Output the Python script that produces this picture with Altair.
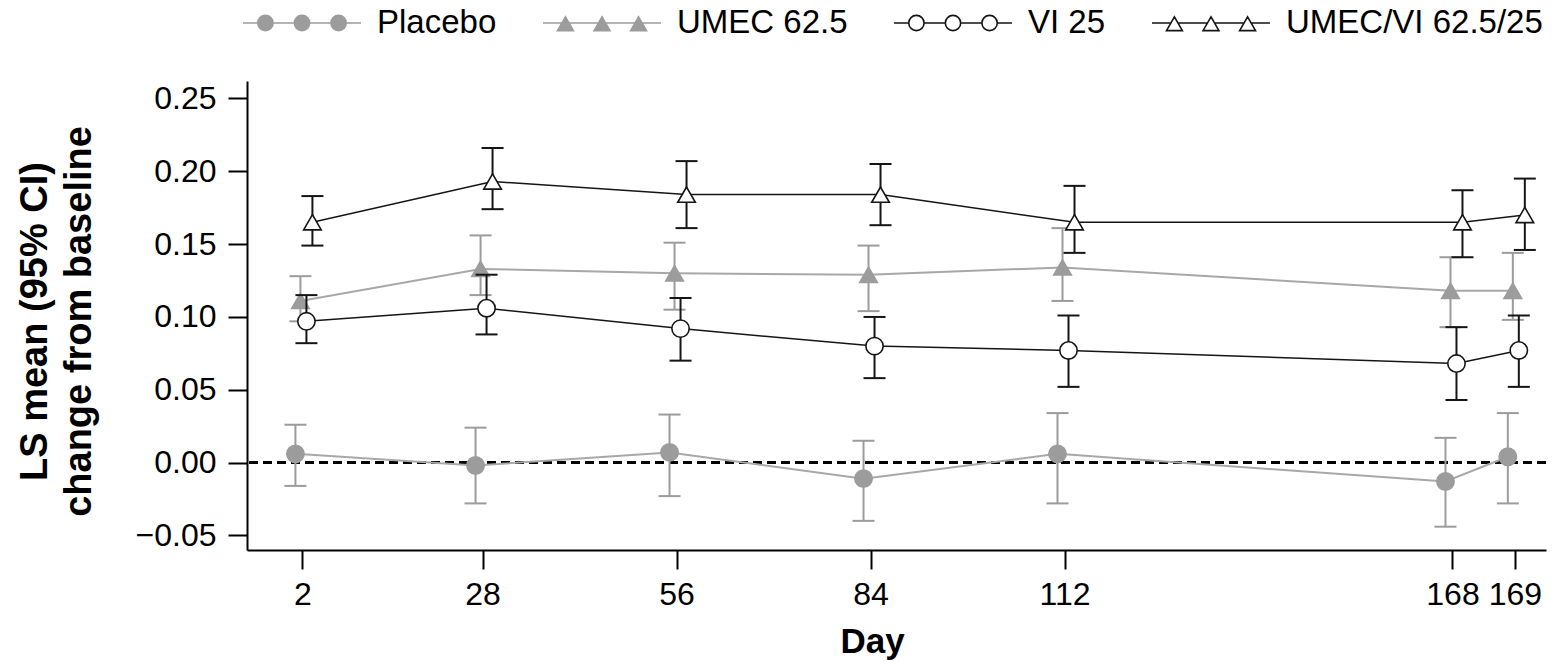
import altair as alt
import pandas as pd

# ---------------- data ----------------
series = ["Placebo", "UMEC 62.5", "VI 25", "UMEC/VI 62.5/25"]
day_labels = ["2", "28", "56", "84", "112", "168", "169"]
# axis position of each visit (day 169 is drawn a little apart from 168)
day_axis_pos = [2, 28, 56, 84, 112, 168, 177]
y_ticks = [-0.05, 0.0, 0.05, 0.10, 0.15, 0.20, 0.25]

placebo_mean = [0.006, -0.002, 0.007, -0.011, 0.006, -0.013, 0.004]
placebo_lower = [-0.016, -0.028, -0.023, -0.040, -0.028, -0.044, -0.028]
placebo_upper = [0.026, 0.024, 0.033, 0.015, 0.034, 0.017, 0.034]

umec_mean = [0.111, 0.133, 0.130, 0.129, 0.134, 0.118, 0.118]
umec_lower = [0.097, 0.115, 0.105, 0.104, 0.111, 0.093, 0.098]
umec_upper = [0.128, 0.156, 0.151, 0.149, 0.161, 0.141, 0.144]

vi_mean = [0.097, 0.106, 0.092, 0.080, 0.077, 0.068, 0.077]
vi_lower = [0.082, 0.088, 0.070, 0.058, 0.052, 0.043, 0.052]
vi_upper = [0.115, 0.129, 0.113, 0.100, 0.101, 0.093, 0.101]

combo_mean = [0.165, 0.193, 0.184, 0.184, 0.165, 0.165, 0.170]
combo_lower = [0.149, 0.174, 0.161, 0.163, 0.144, 0.141, 0.146]
combo_upper = [0.183, 0.216, 0.207, 0.205, 0.190, 0.187, 0.195]

values = {
    "Placebo": (placebo_mean, placebo_lower, placebo_upper),
    "UMEC 62.5": (umec_mean, umec_lower, umec_upper),
    "VI 25": (vi_mean, vi_lower, vi_upper),
    "UMEC/VI 62.5/25": (combo_mean, combo_lower, combo_upper),
}

# ---------------- styles ----------------
GRAY = "#9c9c9c"
LGRAY = "#a8a8a8"
BLACK = "#151515"
FONT = "Liberation Sans"

styles = {
    "Placebo": dict(shape="circle", fill=GRAY, stroke=GRAY, line=LGRAY, lw=2.0, err=GRAY, dx=-7, size=300),
    "UMEC 62.5": dict(shape="triangle-up", fill=GRAY, stroke=GRAY, line=LGRAY, lw=2.0, err=GRAY, dx=-2, size=310),
    "VI 25": dict(shape="circle", fill="white", stroke=BLACK, line=BLACK, lw=1.5, err=BLACK, dx=4, size=300),
    "UMEC/VI 62.5/25": dict(shape="triangle-up", fill="white", stroke=BLACK, line=BLACK, lw=1.5, err=BLACK, dx=10, size=310),
}

# ---------------- scales / axes ----------------
x_scale = alt.Scale(domain=[-6, 181.5], nice=False, zero=False)
y_scale = alt.Scale(domain=[-0.06, 0.262], nice=False, zero=False)

relabel = [(p, l) for p, l in zip(day_axis_pos, day_labels) if str(p) != l]
label_expr = "datum.label"
for p, l in relabel:
    label_expr = f"datum.value == {p} ? '{l}' : ({label_expr})"

x_axis = alt.Axis(
    values=day_axis_pos, labelExpr=label_expr, title="Day", grid=False,
    labelFont=FONT, labelFontSize=32, labelColor="black", labelPadding=10,
    tickSize=19, tickWidth=2, tickColor="black", domainColor="black", domainWidth=2,
    titleFont=FONT, titleFontSize=35, titleFontWeight="bold", titleColor="black",
    titleX=625, titleY=102, titleBaseline="alphabetic", titleAlign="center",
)
y_axis = alt.Axis(
    values=y_ticks, format=".2f", title=["LS mean (95% CI)", "change from baseline"], grid=False,
    labelFont=FONT, labelFontSize=32, labelColor="black", labelPadding=12,
    tickSize=19, tickWidth=2, tickColor="black", domainColor="black", domainWidth=2,
    titleFont=FONT, titleFontSize=38, titleFontWeight="bold", titleColor="black",
    titleLineHeight=44, titleAngle=270, titleAlign="center", titleBaseline="alphabetic",
    titleX=-201, titleY=240,
)


def X():
    return alt.X("pos:Q", scale=x_scale, axis=x_axis)


def Y(field):
    return alt.Y(f"{field}:Q", scale=y_scale, axis=y_axis)


rows = []
for s in series:
    m, lo, up = values[s]
    for pos, lab, a, b, c in zip(day_axis_pos, day_labels, m, lo, up):
        rows.append(dict(series=s, pos=pos, day=lab, mean=a, lower=b, upper=c))
df = pd.DataFrame(rows)

layers = []
zero = alt.Chart(df).mark_rule(color="black", strokeWidth=1.6, strokeDash=[9, 5]).encode(
    y=alt.YDatum(0, scale=y_scale, axis=y_axis)
)
layers.append(zero)

for s in series:
    st = styles[s]
    base = alt.Chart(df).transform_filter(alt.datum.series == s)
    line = base.mark_line(color=st["line"], strokeWidth=st["lw"], xOffset=st["dx"]).encode(
        x=X(), y=Y("mean"), order="pos:Q"
    )
    bar = base.mark_rule(color=st["err"], strokeWidth=2, xOffset=st["dx"]).encode(
        x=X(), y=Y("lower"), y2="upper:Q"
    )
    cap_lo = base.mark_point(shape="M-1,0H1", size=484, filled=False, stroke=st["err"],
                             strokeWidth=2, opacity=1, xOffset=st["dx"]).encode(x=X(), y=Y("lower"))
    cap_hi = base.mark_point(shape="M-1,0H1", size=484, filled=False, stroke=st["err"],
                             strokeWidth=2, opacity=1, xOffset=st["dx"]).encode(x=X(), y=Y("upper"))
    pts = base.mark_point(shape=st["shape"], size=st["size"], filled=True, fill=st["fill"],
                          stroke=st["stroke"], strokeWidth=1.6, opacity=1, xOffset=st["dx"]).encode(
        x=X(), y=Y("mean")
    )
    layers += [line, bar, cap_lo, cap_hi, pts]


# ---------------- legend (line + three markers symbols) ----------------
def f(v):
    return f"{v:.3f}"


def legend_path(kind):
    cs = [-0.62, 0.0, 0.62]
    if kind == "circle":
        r = 0.13
        half = r
    else:
        w, top, bot = 0.135, -0.105, 0.13
        half = w * (0 - top) / (bot - top)
    segs = []
    edges = [-1.0]
    for c in cs:
        edges += [c - half, c + half]
    edges.append(1.0)
    for i in range(0, len(edges), 2):
        segs.append(f"M{f(edges[i])},0H{f(edges[i + 1])}")
    for c in cs:
        if kind == "circle":
            segs.append(f"M{f(c - r)},0A{f(r)},{f(r)} 0 1,0 {f(c + r)},0A{f(r)},{f(r)} 0 1,0 {f(c - r)},0Z")
        else:
            segs.append(f"M{f(c)},{f(top)}L{f(c - w)},{f(bot)}L{f(c + w)},{f(bot)}Z")
    return "".join(segs)


legend_shapes = [legend_path("circle" if styles[s]["shape"] == "circle" else "triangle") for s in series]
SYM = 118 ** 2
leg = alt.Legend(
    orient="none", legendX=-5, legendY=-118, direction="horizontal", title=None,
    symbolSize=SYM, symbolStrokeWidth=1.6, symbolOpacity=1,
    labelFont=FONT, labelFontSize=33, labelColor="black", labelOffset=15,
    columnPadding=42, padding=0, labelLimit=400,
)
legend_layer = alt.Chart(df).transform_filter("false").mark_point(size=SYM, opacity=1, filled=True).encode(
    shape=alt.Shape("series:N", scale=alt.Scale(domain=series, range=legend_shapes), legend=leg),
    fill=alt.Fill("series:N", scale=alt.Scale(domain=series, range=[styles[s]["fill"] for s in series]), legend=leg),
    stroke=alt.Stroke("series:N", scale=alt.Scale(domain=series, range=[styles[s]["stroke"] for s in series]), legend=leg),
)
layers.append(legend_layer)

chart = alt.layer(*layers).properties(
    width=1299, height=469,
    autosize=alt.AutoSizeParams(type="none"),
    padding={"left": 247, "top": 81, "right": 10, "bottom": 111},
    background="white",
).configure_view(stroke=None)

chart.save("out.html", embed_options={"renderer": "svg", "actions": False})
